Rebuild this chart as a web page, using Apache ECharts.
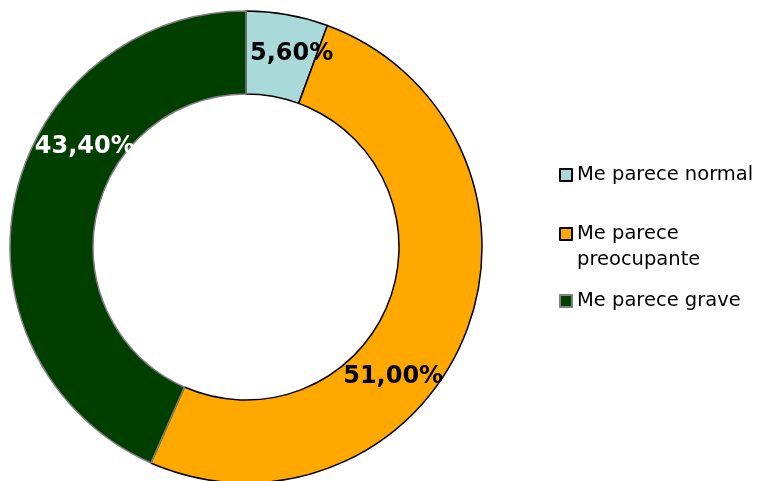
<!DOCTYPE html>
<html>
<head>
<meta charset="utf-8">
<script src="https://cdn.jsdelivr.net/npm/echarts@6/dist/echarts.min.js"></script>
<style>
html,body{margin:0;padding:0;background:#fff;}
#chart{width:757px;height:481px;}
</style>
</head>
<body>
<div id="chart"></div>
<script>
const categories = ['Me parece normal', 'Me parece preocupante', 'Me parece grave'];
const legendTexts = ['Me parece normal', '\nMe parece\npreocupante', 'Me parece grave'];
const values = [5.6, 51.0, 43.4];
const valueLabels = ['5,60%', '51,00%', '43,40%'];
const fillColors = ['#A9D9D9', '#FFA800', '#003F00'];
const borderColors = ['#000000', '#000000', '#808080'];
const labelColors = ['#000000', '#000000', '#FFFFFF'];
const labelShift = [[11, 1], [-36, 56], [32, -60]];

const font = 'DejaVu Sans, Verdana, sans-serif';

const chart = echarts.init(document.getElementById('chart'), null, {renderer: 'canvas'});

function legendFor(i, top) {
  return {
    orient: 'vertical',
    left: 559,
    top: top,
    padding: 0,
    itemWidth: 12,
    itemHeight: 12,
    itemGap: 0,
    icon: 'rect',
    selectedMode: false,
    data: [categories[i]],
    formatter: function () { return legendTexts[i]; },
    textStyle: {fontFamily: font, fontSize: 19.5, color: '#000', lineHeight: 26}
  };
}

chart.setOption({
  animation: false,
  backgroundColor: '#fff',
  legend: [
    legendFor(0, 162),
    legendFor(1, 195),
    legendFor(2, 288)
  ],
  series: [{
    type: 'pie',
    center: [246, 247],
    radius: [153, 236],
    startAngle: 90,
    clockwise: true,
    silent: true,
    emphasis: {disabled: true},
    label: {
      show: true,
      position: 'inside',
      fontFamily: font,
      fontWeight: 'bold',
      fontSize: 24
    },
    labelLine: {show: false},
    labelLayout: function (params) {
      const s = labelShift[params.dataIndex];
      return {dx: s[0], dy: s[1]};
    },
    data: categories.map(function (c, i) {
      return {
        name: c,
        value: values[i],
        itemStyle: {color: fillColors[i], borderColor: borderColors[i], borderWidth: 1.5},
        label: {formatter: valueLabels[i], color: labelColors[i]}
      };
    })
  }]
});
</script>
</body>
</html>
